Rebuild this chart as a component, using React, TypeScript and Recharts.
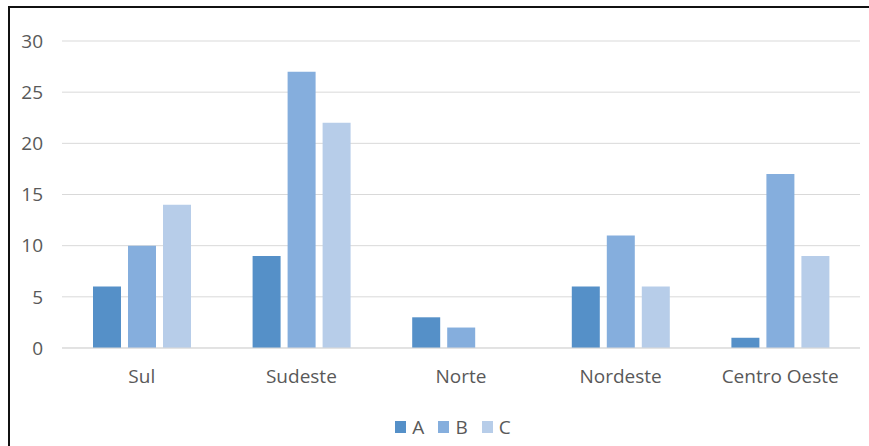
import React from "react";
import { Bar, BarChart, CartesianGrid, Legend, XAxis, YAxis } from "recharts";

const regions = ["Sul", "Sudeste", "Norte", "Nordeste", "Centro Oeste"];
const seriesA = [6, 9, 3, 6, 1];
const seriesB = [10, 27, 2, 11, 17];
const seriesC = [14, 22, 0, 6, 9];
const yTicks = [0, 5, 10, 15, 20, 25, 30];

const series = [
  { key: "A", color: "#5590c8" },
  { key: "B", color: "#85aedd" },
  { key: "C", color: "#b7cde9" },
];

const data = regions.map((name, i) => ({
  name,
  A: seriesA[i],
  B: seriesB[i],
  C: seriesC[i],
}));

const FONT = "'Open Sans', sans-serif";
const TEXT = "#595959";

function LegendBox() {
  return (
    <div
      style={{
        display: "flex",
        justifyContent: "center",
        alignItems: "center",
        height: 24,
        paddingLeft: 50,
        fontFamily: FONT,
        fontSize: 19,
        color: TEXT,
      }}
    >
      {series.map((s) => (
        <span key={s.key} style={{ display: "flex", alignItems: "center", marginRight: 14 }}>
          <span style={{ width: 11, height: 12, background: s.color, marginRight: 6, display: "inline-block" }} />
          {s.key}
        </span>
      ))}
    </div>
  );
}

export default function App() {
  return (
    <div
      style={{
        position: "absolute",
        left: 8,
        top: 6,
        width: 859,
        height: 440,
        borderTop: "2px solid #111",
        borderLeft: "2px solid #111",
        background: "#fff",
        overflow: "hidden",
      }}
    >
      <BarChart
        width={859}
        height={438}
        data={data}
        margin={{ top: 33, right: 9, left: 0, bottom: 7 }}
        barGap={7}
        barSize={28}
      >
        <CartesianGrid stroke="#d9d9d9" vertical={false} />
        <XAxis
          dataKey="name"
          height={67}
          tick={{ fontSize: 19, fill: TEXT, fontFamily: FONT }}
          tickLine={false}
          tickMargin={16}
          axisLine={{ stroke: "#d9d9d9" }}
        />
        <YAxis
          width={52}
          domain={[0, 30]}
          ticks={yTicks}
          tick={{ fontSize: 19, fill: TEXT, fontFamily: FONT }}
          tickLine={false}
          tickMargin={13}
          axisLine={false}
        />
        <Legend verticalAlign="bottom" height={24} content={() => <LegendBox />} />
        {series.map((s) => (
          <Bar key={s.key} dataKey={s.key} fill={s.color} isAnimationActive={false} />
        ))}
      </BarChart>
    </div>
  );
}
